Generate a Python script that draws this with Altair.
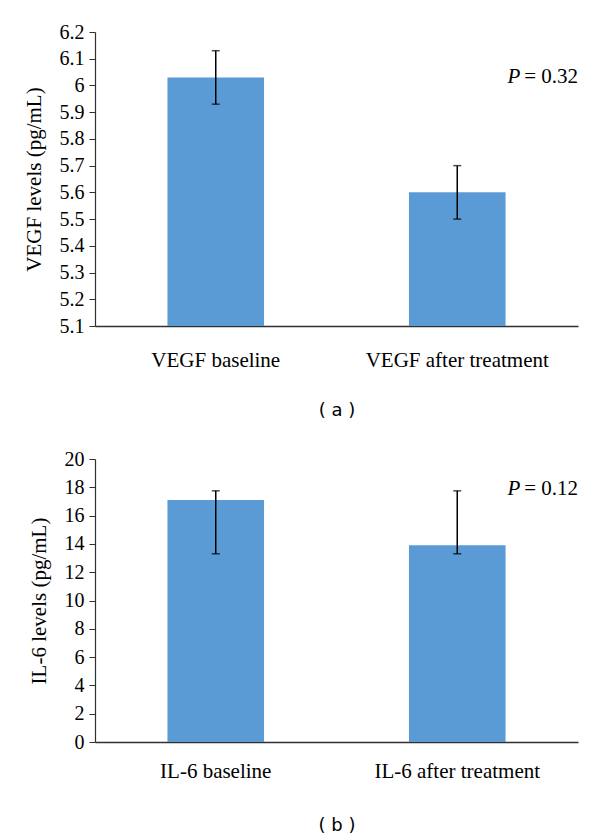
import altair as alt
import pandas as pd

# ---- data ----
vegf_groups = ["VEGF baseline", "VEGF after treatment"]
vegf_mean = [6.03, 5.60]
vegf_low = [5.93, 5.50]
vegf_high = [6.13, 5.70]
vegf_ticks = [5.1, 5.2, 5.3, 5.4, 5.5, 5.6, 5.7, 5.8, 5.9, 6.0, 6.1, 6.2]
vegf_domain = [5.1, 6.2]
vegf_p = "= 0.32"
vegf_p_y = [6.03]

il6_groups = ["IL-6 baseline", "IL-6 after treatment"]
il6_mean = [17.1, 13.9]
il6_low = [13.3, 13.3]
il6_high = [17.75, 17.75]
il6_ticks = [0, 2, 4, 6, 8, 10, 12, 14, 16, 18, 20]
il6_domain = [0, 20]
il6_p = "= 0.12"
il6_p_y = [17.9]

SERIF = "Liberation Serif"
AXIS_COLOR = "#303030"
BAR_COLOR = "#5B9BD5"


def panel(groups, mean, low, high, ticks, domain, ytitle, ptext, py,
          panel_label, height, label_pad, title_pad):
    df = pd.DataFrame({"group": groups, "mean": mean, "low": low, "high": high})
    pdf = pd.DataFrame({"group": [groups[1]], "y": py})

    x_scale = alt.Scale(paddingInner=0.6, paddingOuter=0.3)
    x_axis = alt.Axis(
        title=panel_label, labelAngle=0, ticks=False, tickSize=0,
        labelPadding=label_pad, titlePadding=title_pad, labelLimit=400,
        labelFont=SERIF, labelFontSize=21, labelColor="black",
        labelOverlap=False,
        titleFont="DejaVu Sans", titleFontSize=18, titleFontWeight="normal",
        titleColor="black", domainColor=AXIS_COLOR, domainWidth=1.5,
    )
    y_scale = alt.Scale(domain=domain, nice=False, zero=False)
    y_axis = alt.Axis(
        title=ytitle, values=ticks, format="~g", grid=False, labelOverlap=False,
        tickSize=6, tickColor=AXIS_COLOR, domainColor=AXIS_COLOR, domainWidth=1.2,
        labelFont=SERIF, labelFontSize=20, labelColor="black", labelPadding=5,
        titleFont=SERIF, titleFontSize=21, titleFontWeight="normal",
        titleColor="black", titlePadding=15,
    )

    def X():
        return alt.X("group:N", sort=groups, scale=x_scale, axis=x_axis)

    def Y(field):
        return alt.Y(field, scale=y_scale, axis=y_axis)

    base = alt.Chart(df)
    bars = base.mark_bar(color=BAR_COLOR).encode(
        x=X(), y=Y("mean:Q"), y2=alt.datum(domain[0]),
    )
    rule = base.mark_rule(color="black", strokeWidth=1.5).encode(
        x=X(), y=Y("low:Q"), y2="high:Q"
    )
    cap_low = base.mark_tick(color="black", size=8, thickness=1.5).encode(
        x=X(), y=Y("low:Q")
    )
    cap_high = base.mark_tick(color="black", size=8, thickness=1.5).encode(
        x=X(), y=Y("high:Q")
    )
    p_italic = alt.Chart(pdf).mark_text(
        text="P", font=SERIF, fontSize=21, fontStyle="italic",
        align="right", baseline="middle", dx=63, color="black",
    ).encode(x=X(), y=Y("y:Q"))
    p_rest = alt.Chart(pdf).mark_text(
        text=ptext, font=SERIF, fontSize=21,
        align="left", baseline="middle", dx=67, color="black",
    ).encode(x=X(), y=Y("y:Q"))

    return alt.layer(bars, rule, cap_low, cap_high, p_italic, p_rest).properties(
        width=483, height=height
    )


top = panel(vegf_groups, vegf_mean, vegf_low, vegf_high, vegf_ticks, vegf_domain,
            "VEGF levels (pg/mL)", vegf_p, vegf_p_y, "( a )", 294, 23, 31)
bottom = panel(il6_groups, il6_mean, il6_low, il6_high, il6_ticks, il6_domain,
               "IL-6 levels (pg/mL)", il6_p, il6_p_y, "( b )", 283, 18, 35)

chart = alt.vconcat(top, bottom, spacing=30).properties(
    padding={"left": 15, "top": 14, "right": 5, "bottom": 0},
    background="white",
).configure_view(stroke=None)

chart.save("out.html", embed_options={"renderer": "svg", "actions": False})
